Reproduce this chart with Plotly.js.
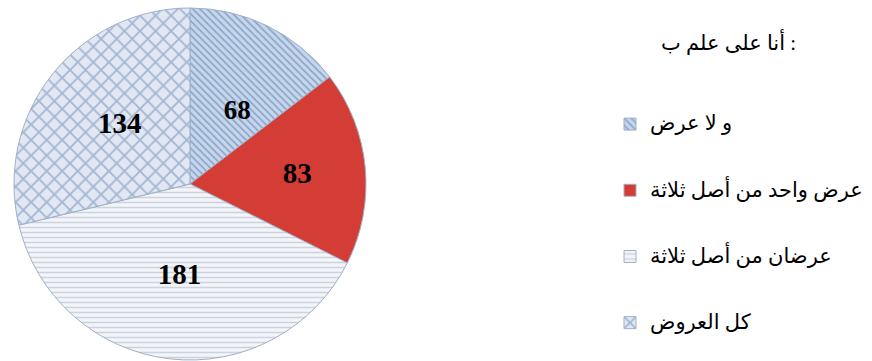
<!DOCTYPE html>
<html>
<head>
<meta charset="utf-8">
<script src="https://cdn.plot.ly/plotly-3.0.1.min.js"></script>
<style>html,body{margin:0;padding:0;background:#fff;}#chart{width:872px;height:361px;}</style>
</head>
<body>
<div id="chart"></div>
<script>
// Data
const categories = ["و لا عرض", "عرض واحد من أصل ثلاثة", "عرضان من أصل ثلاثة", "كل العروض"];
const values = [68, 83, 181, 134];
const legendTitle = "أنا على علم ب :";

// Styles
const bgColors = ["#c6d5ea", "#d33d36", "#f3f5f9", "#e1e8f3"];
const fgColors = ["#86a2c9", "#d33d36", "#ccd3de", "#a3b6d3"];
const shapes = ["\\", "", "-", "x"];
const sizes = [5, 8, 5, 11];
const nb = "\u00a0";
const textTemplates = [nb + "<br>" + nb + "<br>%{value}" + nb + nb, "%{value}" + nb + nb, "%{value}", nb + nb + "%{value}"];

const legendLabels = categories.map(c => nb + "<br><span style='font-size:21px'>" + c + "</span><br>" + nb);

const W = 872, H = 361;
const cx = 190, cy = 184, r = 176;

const trace = {
  type: "pie",
  labels: legendLabels,
  values: values,
  sort: false,
  direction: "clockwise",
  rotation: 0,
  texttemplate: textTemplates,
  textposition: "inside",
  insidetextorientation: "horizontal",
  textfont: {family: "Liberation Serif, Times New Roman, serif", size: 29, color: "#000", weight: "bold"},
  hoverinfo: "none",
  domain: {x: [(cx - r) / W, (cx + r) / W], y: [1 - (cy + r) / H, 1 - (cy - r) / H]},
  marker: {
    colors: bgColors,
    line: {color: "#9fb0c6", width: 1},
    pattern: {shape: shapes, fgcolor: fgColors, bgcolor: bgColors, size: sizes, solidity: 0.3, fillmode: "replace"}
  }
};

const layout = {
  width: W, height: H,
  margin: {l: 0, r: 0, t: 0, b: 0},
  paper_bgcolor: "#fff",
  showlegend: true,
  legend: {
    x: 610 / W, xanchor: "left",
    y: 0, yanchor: "bottom",
    font: {family: "Liberation Serif, DejaVu Sans, serif", size: 16.2, color: "#000"},
    bgcolor: "rgba(0,0,0,0)"
  },
  annotations: [{
    text: legendTitle, showarrow: false,
    xref: "paper", yref: "paper",
    x: 728 / W, y: 1 - 42 / H, xanchor: "center", yanchor: "middle",
    font: {family: "Liberation Serif, DejaVu Sans, serif", size: 21, color: "#000"}
  }]
};

Plotly.newPlot("chart", [trace], layout, {staticPlot: true});
</script>
</body>
</html>
